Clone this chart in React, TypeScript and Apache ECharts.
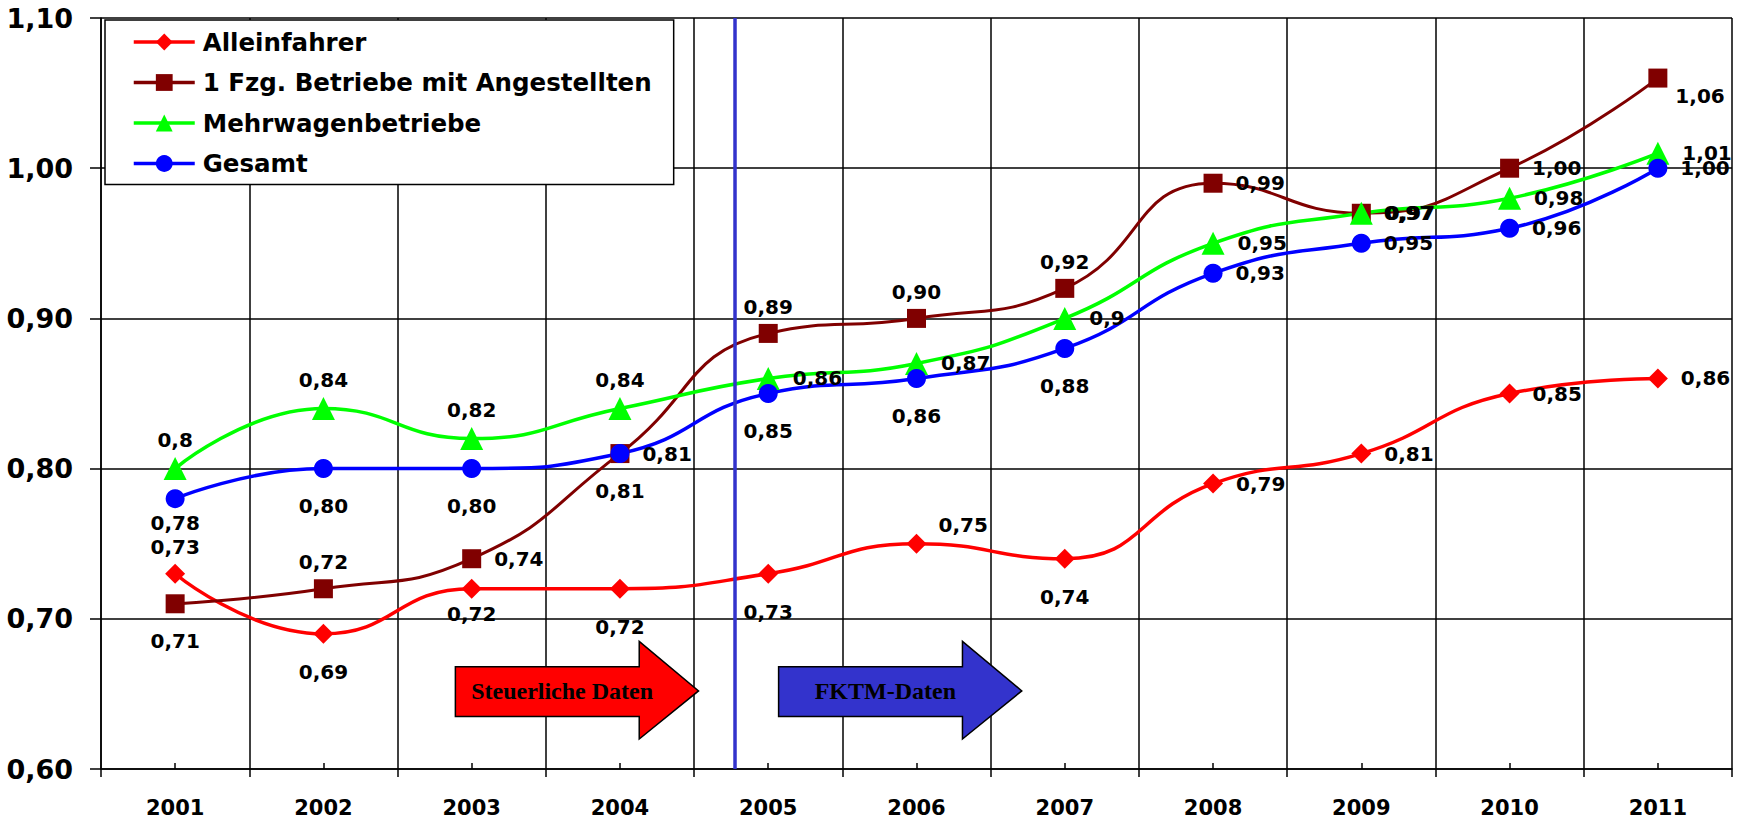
import React, { useEffect, useRef } from 'react';
import * as echarts from 'echarts';

// ---- data ----
const years = ['2001', '2002', '2003', '2004', '2005', '2006', '2007', '2008', '2009', '2010', '2011'];
const alleinfahrer = [0.73, 0.69, 0.72, 0.72, 0.73, 0.75, 0.74, 0.79, 0.81, 0.85, 0.86];
const einFzgBetriebe = [0.71, 0.72, 0.74, 0.81, 0.89, 0.9, 0.92, 0.99, 0.97, 1.0, 1.06];
const mehrwagen = [0.8, 0.84, 0.82, 0.84, 0.86, 0.87, 0.9, 0.95, 0.97, 0.98, 1.01];
const gesamt = [0.78, 0.8, 0.8, 0.81, 0.85, 0.86, 0.88, 0.93, 0.95, 0.96, 1.0];
const seriesNames = ['Alleinfahrer', '1 Fzg. Betriebe mit Angestellten', 'Mehrwagenbetriebe', 'Gesamt'];
const yMin = 0.6;
const yMax = 1.1;
const yStep = 0.1;
// split between data sources, in category widths from the left edge
const sourceSplit = 4.276;
const arrowTexts = ['Steuerliche Daten', 'FKTM-Daten'];

// label placement per point
const alleinPos = ['top', 'bottom', 'bottomNear', 'bottom', 'bottom', 'topRight', 'bottom', 'right', 'right', 'right', 'right'];
const einFzgPos = ['bottom', 'top', 'right', 'right', 'top', 'top', 'top', 'right', 'right', 'right', 'bottomRight'];
const mehrPos = ['top', 'top', 'top', 'top', 'right', 'right', 'right', 'right', 'right', 'right', 'right'];
const gesamtPos = ['bottomNear', 'bottom', 'bottom', 'bottom', 'bottom', 'bottom', 'bottom', 'right', 'right', 'right', 'right'];

const FONT = 'DejaVu Sans';

function placement(p: string) {
  switch (p) {
    case 'top':
      return { position: 'top', distance: 7 };
    case 'bottom':
      return { position: 'bottom', distance: 18 };
    case 'bottomNear':
      return { position: 'bottom', distance: 5 };
    case 'topRight':
      return { position: 'right', distance: 12, offset: [0, -19] };
    case 'bottomRight':
      return { position: 'right', distance: 8, offset: [0, 18] };
    default:
      return { position: 'right', distance: 13 };
  }
}

const fmt2 = (v: number) => v.toFixed(2).replace('.', ',');
const fmtShort = (v: number) => String(v).replace('.', ',');

function makeSeries(
  name: string,
  values: number[],
  pos: string[],
  color: string,
  symbol: string,
  size: number,
  width: number,
  fmt: (v: number) => string
) {
  return {
    name,
    type: 'line',
    xAxisIndex: 0,
    yAxisIndex: 0,
    smooth: 0.5,
    symbol,
    symbolSize: size,
    showAllSymbol: true,
    lineStyle: { color, width },
    itemStyle: { color },
    label: {
      show: true,
      color: '#000',
      fontFamily: FONT,
      fontWeight: 'bold',
      fontSize: 20,
      formatter: (p: any) => fmt(p.value as number),
    },
    data: values.map((v, i) => ({ value: v, label: placement(pos[i]) })),
    z: 3,
  };
}

export default function App() {
  const ref = useRef<HTMLDivElement>(null);

  useEffect(() => {
    const chart = echarts.init(ref.current!, null, { renderer: 'svg' });
    const gridLine = { color: '#000', width: 1.5 };
    const option: any = {
      animation: false,
      backgroundColor: '#fff',
      grid: { left: 101, right: 12, top: 18, bottom: 52, containLabel: false },
      legend: {
        data: seriesNames,
        orient: 'vertical',
        left: 105,
        top: 20,
        padding: [9, 22, 8, 27],
        itemGap: 14.5,
        itemWidth: 61,
        itemHeight: 21,
        backgroundColor: '#fff',
        borderColor: '#000',
        borderWidth: 1.5,
        lineStyle: { width: 3.5 },
        textStyle: {
          fontFamily: FONT,
          fontWeight: 'bold',
          fontSize: 24.5,
          lineHeight: 26,
          color: '#000',
          padding: [0, 0, 0, 3],
        },
        selectedMode: false,
      },
      xAxis: [
        {
          type: 'category',
          data: years,
          boundaryGap: true,
          axisLine: { lineStyle: gridLine },
          axisTick: { show: true, length: 8, lineStyle: gridLine },
          splitLine: { show: true, lineStyle: gridLine },
          axisLabel: {
            margin: 28,
            color: '#000',
            fontFamily: FONT,
            fontWeight: 'bold',
            fontSize: 21,
          },
        },
        {
          type: 'category',
          data: years,
          position: 'bottom',
          boundaryGap: true,
          axisLine: { show: false },
          axisLabel: { show: false },
          splitLine: { show: false },
          axisTick: { show: true, alignWithLabel: true, inside: true, length: 6, lineStyle: gridLine },
        },
        {
          type: 'value',
          min: 0,
          max: years.length,
          show: false,
        },
      ],
      yAxis: {
        type: 'value',
        min: yMin,
        max: yMax,
        interval: yStep,
        axisLine: { show: true, lineStyle: gridLine },
        axisTick: { show: true, length: 11, lineStyle: gridLine },
        splitLine: { show: true, lineStyle: gridLine },
        axisLabel: {
          margin: 28,
          color: '#000',
          fontFamily: FONT,
          fontWeight: 'bold',
          fontSize: 27,
          formatter: (v: number) => fmt2(v),
        },
      },
      series: [
        makeSeries(seriesNames[0], alleinfahrer, alleinPos, '#FF0000', 'diamond', 20, 3.5, fmt2),
        makeSeries(seriesNames[1], einFzgBetriebe, einFzgPos, '#800000', 'rect', 19, 3, fmt2),
        makeSeries(seriesNames[2], mehrwagen, mehrPos, '#00FF00', 'triangle', 23, 3.5, fmtShort),
        makeSeries(seriesNames[3], gesamt, gesamtPos, '#0000FF', 'circle', 19, 3.5, fmt2),
        {
          name: 'split',
          type: 'line',
          xAxisIndex: 2,
          yAxisIndex: 0,
          symbol: 'none',
          silent: true,
          lineStyle: { color: '#3333CC', width: 3.5 },
          data: [
            [sourceSplit, yMin],
            [sourceSplit, yMax],
          ],
          z: 4,
        },
      ],
    };
    chart.setOption(option);

    // arrows, placed through the hidden value axis (category-width units)
    const toPx = (x: number, y: number) => chart.convertToPixel({ seriesIndex: 4 }, [x, y]) as number[];
    const arrowDefs = [
      { left: 2.39, base: 3.63, tip: 4.03, textX: 3.11, fill: '#FF0000' },
      { left: 4.57, base: 5.81, tip: 6.21, textX: 5.29, fill: '#3333CC' },
    ];
    const bodyTop = 0.668;
    const bodyBottom = 0.635;
    const headTop = 0.685;
    const headBottom = 0.62;
    const mid = 0.652;
    const graphics: any[] = [];
    arrowDefs.forEach((a, i) => {
      const pts = [
        toPx(a.left, bodyTop),
        toPx(a.base, bodyTop),
        toPx(a.base, headTop),
        toPx(a.tip, mid),
        toPx(a.base, headBottom),
        toPx(a.base, bodyBottom),
        toPx(a.left, bodyBottom),
      ];
      graphics.push({
        type: 'polygon',
        shape: { points: pts },
        style: { fill: a.fill, stroke: '#000', lineWidth: 1.5 },
        z: 10,
      });
      const c = toPx(a.textX, mid);
      graphics.push({
        type: 'text',
        x: c[0],
        y: c[1],
        style: {
          text: arrowTexts[i],
          fill: '#000',
          font: 'bold 24px "Liberation Serif"',
          align: 'center',
          verticalAlign: 'middle',
          textAlign: 'center',
          textVerticalAlign: 'middle',
        },
        z: 11,
      });
    });
    chart.setOption({ graphic: graphics });

    return () => {
      chart.dispose();
    };
  }, []);

  return (
    <div
      ref={ref}
      style={{ position: 'fixed', left: 0, top: 0, width: 1744, height: 821, background: '#fff' }}
    />
  );
}
